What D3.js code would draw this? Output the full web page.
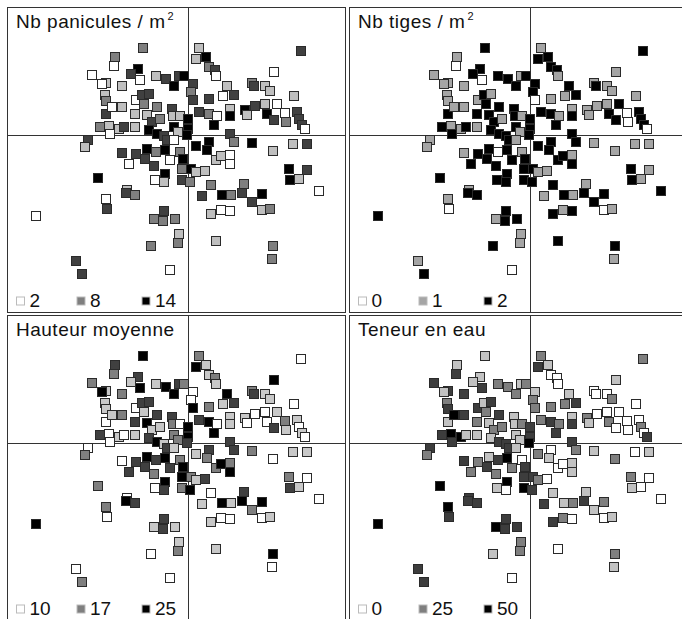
<!DOCTYPE html>
<html><head><meta charset="utf-8">
<script src="https://cdn.jsdelivr.net/npm/d3@7"></script>
<style>html,body{margin:0;padding:0;background:#fff;}svg{display:block;}</style>
</head><body>
<svg id="chart" width="682" height="619"></svg>
<script>
// Factorial scores (axis 1, axis 2) of the sampled plots
const scoreX = [-0.91,0.23,0.17,0.36,2.26,-1.46,-1.49,1.72,-1.93,-1.64,
 -1.73,-1.01,-1.15,-0.97,-0.64,-0.44,-0.19,-0.09,-0.28,0.41,
 0.54,0.56,-1.33,0.11,0.07,0.11,1.27,1.31,1.54,1.65,
 2.11,0.77,0.91,0.69,-1.66,-1.64,-1.65,-1.52,-1.03,-0.93,
 -0.79,-0.89,-0.63,0.43,0.23,0.41,0.57,0.84,0.84,1.14,
 1.34,1.54,1.77,1.57,1.94,2.17,2.21,2.27,1.97,1.71,
 2.34,-1.31,-1.06,-0.83,-0.33,-0.31,-0.16,0.01,0.01,-0.29,
 -0.73,-0.79,-0.56,-1.76,-1.59,-1.39,-1.29,-1.06,-1.56,0.51,
 0.83,1.17,-0.63,-0.49,-0.21,-0.03,-2.01,-2.06,-1.31,-1.19,
 -1.03,-0.83,-0.86,-0.64,-0.68,-0.46,-0.43,-0.29,-0.36,-0.16,
 -0.11,-0.13,0.07,-0.46,-0.66,-0.48,-0.13,0.04,0.16,0.43,
 0.37,0.91,0.56,0.66,0.84,0.85,0.34,0.17,1.29,1.69,
 2.09,2.37,2.01,2.03,2.21,2.37,2.61,-1.81,-1.23,-1.24,
 -1.06,-1.64,-1.61,-3.04,0.45,0.27,0.67,0.87,1.07,1.13,
 1.47,1.29,1.47,1.64,0.45,0.65,0.84,-0.49,-0.69,-0.51,
 -0.27,-0.19,-0.21,-0.74,0.56,1.69,1.67,-2.25,-2.13,-0.36];
const scoreY = [1.73,1.73,1.53,1.55,1.67,1.55,1.38,1.27,1.20,1.05,
 1.03,1.32,1.23,1.11,1.18,1.13,1.18,1.18,0.97,1.37,
 1.30,1.18,0.97,1.03,0.87,0.71,1.05,0.98,0.98,0.89,
 0.78,0.97,0.81,0.78,0.80,0.67,0.43,0.57,0.71,0.80,
 0.82,0.62,0.55,0.73,0.47,0.43,0.37,0.53,0.37,0.50,
 0.58,0.63,0.63,0.43,0.45,0.47,0.33,0.20,0.27,0.30,
 0.13,0.55,0.43,0.40,0.53,0.37,0.37,0.33,0.13,0.17,
 0.27,0.10,0.33,0.17,0.18,0.13,0.17,0.17,0.03,0.20,
 0.03,0.40,0.03,-0.03,0.07,0.00,-0.10,-0.23,-0.35,-0.57,
 -0.38,-0.27,-0.47,-0.33,-0.63,-0.30,-0.09,-0.10,-0.50,-0.33,
 -0.47,-0.67,-0.67,-0.77,-0.90,-0.93,-0.90,-0.93,-0.22,-0.13,
 -0.30,-0.13,-0.49,-0.42,-0.40,-0.57,-0.71,-0.73,-0.15,-0.32,
 -0.17,-0.17,-0.67,-0.89,-0.87,-0.70,-1.12,-0.85,-1.10,-1.15,
 -1.19,-1.27,-1.47,-1.61,-1.00,-1.22,-1.20,-1.20,-1.15,-0.98,
 -1.17,-1.35,-1.49,-1.47,-1.57,-1.50,-1.52,-1.51,-1.67,-1.71,
 -1.67,-1.97,-2.17,-2.22,-2.11,-2.22,-2.48,-2.52,-2.77,-2.70];

// Variables mapped as grey levels
const panicules = [8,5,5,14,11,8,2,2,2,5, 2,14,11,2,5,11,11,14,14,8,
 11,2,5,11,8,11,8,11,5,5, 5,5,11,2,5,8,11,2,2,11,
 11,8,8,11,11,8,2,5,14,14, 11,5,2,14,2,11,11,11,8,11,
 2,5,5,5,11,5,5,14,14,14, 11,14,8,8,5,5,11,5,2,14,
 11,5,14,11,5,14,11,5,11,2, 11,14,11,8,11,14,11,2,2,8,
 14,8,14,14,2,5,11,8,14,14, 14,8,5,5,2,2,5,5,14,5,
 5,11,14,14,5,11,2,14,5,11, 8,2,11,2,8,11,14,8,11,8,
 14,11,5,8,5,2,2,11,8,8, 8,5,8,8,5,8,8,11,11,2];
const tiges = [2,1,2,2,2,1,0,1,1,1, 1,2,2,0,2,2,1,2,2,2,
 2,1,1,2,2,0,1,2,1,1, 1,2,2,1,1,1,2,1,1,2,
 1,2,2,1,2,2,1,1,2,1, 1,1,2,2,0,2,2,2,0,2,
 0,1,2,2,2,2,1,2,2,2, 2,2,1,2,1,1,2,1,2,2,
 2,1,2,2,1,2,1,1,1,2, 2,2,2,0,2,2,2,1,2,1,
 2,2,2,2,2,2,2,2,2,2, 2,2,2,2,1,2,1,1,1,1,
 1,1,2,2,1,1,2,2,1,2, 2,1,0,2,2,1,2,1,2,1,
 2,2,0,1,2,1,2,2,1,2, 2,1,1,2,2,2,1,1,2,0];
const hauteur = [25,17,25,13,10,21,17,25,17,13, 25,21,13,25,13,25,21,17,25,13,
 17,13,17,10,10,25,17,21,13,13, 10,25,21,13,13,13,10,13,10,21,
 21,13,21,17,21,25,10,13,13,13, 10,10,13,10,17,13,10,13,13,21,
 10,17,21,25,21,17,10,25,25,17, 13,21,13,21,10,13,10,13,10,25,
 21,10,25,13,17,21,10,17,10,21, 21,25,21,21,17,25,21,13,21,17,
 25,25,17,25,10,21,17,25,13,21, 17,21,17,25,17,25,21,13,17,10,
 13,13,17,21,13,10,10,17,10,25, 21,17,10,25,10,13,25,13,25,21,
 25,17,10,13,13,10,10,21,13,21, 13,13,17,10,13,25,10,10,17,10];
const teneur = [12,25,38,12,25,12,38,12,38,38, 12,12,12,38,25,25,12,25,25,0,
 0,0,38,12,25,25,0,0,0,25, 0,12,38,25,25,38,12,50,38,12,
 38,25,38,25,25,38,25,12,38,25, 0,0,0,25,0,0,25,0,0,0,
 38,38,25,12,12,12,25,38,38,12, 25,12,25,38,50,50,12,12,38,38,
 38,12,38,38,12,50,38,25,38,25, 25,12,38,38,25,50,38,12,25,0,
 38,38,38,50,12,0,50,38,25,0, 12,25,0,0,12,12,0,25,12,25,
 0,12,25,12,0,0,0,50,38,38, 38,50,38,50,12,38,12,25,38,12,
 25,12,0,12,38,25,0,38,50,38, 38,25,25,12,0,25,12,38,38,0];

// Panel titles and legend tick labels
const titles = ["Nb panicules / m", "Nb tiges / m", "Hauteur moyenne", "Teneur en eau"];
const titleSup = ["2", "2", "", ""];
const legendTicks = [[2, 8, 14], [0, 1, 2], [10, 17, 25], [0, 25, 50]];
const panelValues = [panicules, tiges, hauteur, teneur];

const svg = d3.select("#chart");
const W = 339, H = 306;
const origins = [[7, 7], [349, 7], [7, 315], [349, 315]];
const midGrey = ["#7f7f7f", "#a5a5a5", "#7f7f7f", "#7f7f7f"];
const FONT = "'Liberation Sans', Arial, Helvetica, sans-serif";

const x = d3.scaleLinear().domain([-3.62, 3.16]).range([0, W]);
const y = d3.scaleLinear().domain([2.56, -3.56]).range([0, H]);

const defs = svg.append("defs");

origins.forEach((o, p) => {
  const ticks = legendTicks[p];
  const grey = d3.scaleLinear()
    .domain([ticks[0], ticks[1], ticks[2]])
    .range(["#ffffff", midGrey[p], "#000000"])
    .clamp(true);

  defs.append("clipPath").attr("id", "clip" + p)
    .append("rect").attr("x", 0).attr("y", 0).attr("width", W).attr("height", H);

  const g = svg.append("g").attr("transform", `translate(${o[0]},${o[1]})`);
  const inner = g.append("g").attr("clip-path", `url(#clip${p})`);

  // cross axes
  inner.append("line").attr("x1", 0).attr("x2", W)
    .attr("y1", Math.round(y(0)) + 0.5).attr("y2", Math.round(y(0)) + 0.5)
    .attr("stroke", "#333").attr("stroke-width", 1);
  inner.append("line").attr("y1", 0).attr("y2", H)
    .attr("x1", Math.round(x(0)) + 0.5).attr("x2", Math.round(x(0)) + 0.5)
    .attr("stroke", "#333").attr("stroke-width", 1);

  // points
  const s = 10;
  inner.selectAll("rect.pt").data(scoreX.map((v, i) => ({ x: v, y: scoreY[i], v: panelValues[p][i] })))
    .join("rect").attr("class", "pt")
    .attr("x", d => Math.round(x(d.x) - s / 2) + 0.5).attr("y", d => Math.round(y(d.y) - s / 2) + 0.5)
    .attr("width", s - 1).attr("height", s - 1)
    .attr("fill", d => grey(d.v)).attr("stroke", "#2a2a2a").attr("stroke-width", 1);

  // title with white background
  const t = inner.append("text").attr("x", 9).attr("y", 21)
    .attr("font-family", FONT).attr("font-size", 19).attr("letter-spacing", 0.5)
    .attr("fill", "#111").text(titles[p]);
  if (titleSup[p]) {
    t.append("tspan").attr("font-size", 11).attr("dy", -8).attr("dx", 2).text(titleSup[p]);
  }
  const bb = t.node().getBBox();
  inner.insert("rect", "text").attr("x", 0).attr("y", 0)
    .attr("width", bb.x + bb.width + 4).attr("height", bb.y + bb.height + 3).attr("fill", "#fff");

  // legend
  const slots = [13.5, 74, 139];
  const leg = inner.append("g");
  const ly = H - 12;
  const legW = 10 + slots[2] + 30;
  leg.append("rect").attr("x", 0).attr("y", ly - 12).attr("width", legW).attr("height", 30).attr("fill", "#fff");
  ticks.forEach((tv, k) => {
    leg.append("rect").attr("x", slots[k] - 4).attr("y", ly - 4).attr("width", 8).attr("height", 8)
      .attr("fill", grey(tv)).attr("stroke", "#bbb").attr("stroke-width", 1);
    leg.append("text").attr("x", slots[k] + 9).attr("y", ly + 6)
      .attr("font-family", FONT).attr("font-size", 19).attr("fill", "#111").text(tv);
  });

  // frame
  g.append("rect").attr("x", 0.5).attr("y", 0.5).attr("width", W - 1).attr("height", H - 1)
    .attr("fill", "none").attr("stroke", "#333").attr("stroke-width", 1);
});
</script>
</body></html>
